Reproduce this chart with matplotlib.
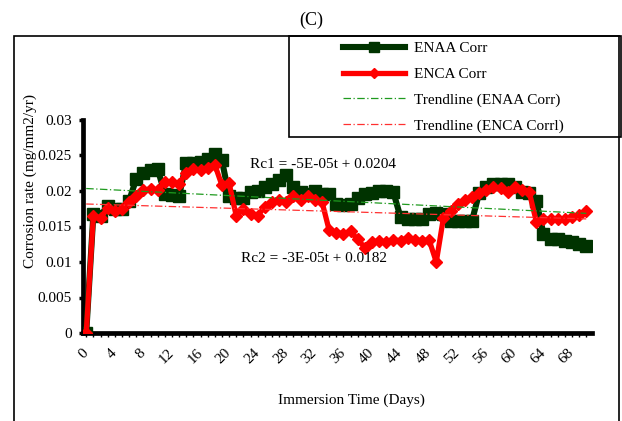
import matplotlib
matplotlib.use("Agg")
import matplotlib.pyplot as plt
from matplotlib.patches import Rectangle
from matplotlib.lines import Line2D
import numpy as np

# immersion time, days 0..70 (one reading per day)
days = list(range(0, 71))

enaa_corr = [
    0.0, 0.0167, 0.0165, 0.0179, 0.0175, 0.0175, 0.0186, 0.0217, 0.0226, 0.0230,
    0.0231, 0.0196, 0.0194, 0.0193, 0.0240, 0.0240, 0.0241, 0.0245, 0.0252, 0.0243,
    0.0193, 0.0190, 0.0190, 0.0198, 0.0200, 0.0205, 0.0210, 0.0215, 0.0222, 0.0205,
    0.0199, 0.0196, 0.0200, 0.0196, 0.0196, 0.0182, 0.0180, 0.0182, 0.0190, 0.0196,
    0.0197, 0.0200, 0.0200, 0.0198, 0.0163, 0.0160, 0.0160, 0.0160, 0.0168, 0.0169,
    0.0167, 0.0158, 0.0158, 0.0158, 0.0158, 0.0197, 0.0205, 0.0210, 0.0210, 0.0210,
    0.0205, 0.0198, 0.0197, 0.0186, 0.0140, 0.0132, 0.0132, 0.0130, 0.0128, 0.0125,
    0.0123,
]

enca_corr = [
    0.0, 0.0165, 0.0162, 0.0176, 0.0172, 0.0175, 0.0184, 0.0193, 0.0201, 0.0203,
    0.0201, 0.0212, 0.0212, 0.0210, 0.0226, 0.0231, 0.0229, 0.0233, 0.0237, 0.0208,
    0.0211, 0.0165, 0.0175, 0.0168, 0.0165, 0.0178, 0.0185, 0.0188, 0.0185, 0.0193,
    0.0188, 0.0193, 0.0188, 0.0185, 0.0145, 0.0141, 0.0140, 0.0143, 0.0132, 0.0120,
    0.0128, 0.0130, 0.0128, 0.0131, 0.0130, 0.0134, 0.0131, 0.0130, 0.0131, 0.0100,
    0.0162, 0.0172, 0.0182, 0.0187, 0.0192, 0.0197, 0.0201, 0.0205, 0.0204, 0.0199,
    0.0206, 0.0202, 0.0199, 0.0157, 0.0161, 0.0160, 0.0160, 0.0161, 0.0163, 0.0166,
    0.0172,
]

# linear trendlines as printed on the chart (t = point index 1..n)
enaa_slope, enaa_intercept = -5e-05, 0.0204
enca_slope, enca_intercept = -3e-05, 0.0182

y_ticks = [0, 0.005, 0.01, 0.015, 0.02, 0.025, 0.03]
y_tick_labels = ["0", "0.005", "0.01", "0.015", "0.02", "0.025", "0.03"]

plt.rcParams["font.family"] = ["Liberation Serif", "DejaVu Serif"]
plt.rcParams["font.size"] = 11

W, H = 622, 421
fig = plt.figure(figsize=(W / 100, H / 100), dpi=100)
ax = fig.add_axes([83 / W, 1 - 333 / H, (592 - 83) / W, (333 - 120) / H])

x = np.array(days)
t = x + 1
dark_green = "#003300"

ax.plot(x, enaa_corr, color=dark_green, lw=4.4, marker="s", ms=8,
        mfc=dark_green, mec=dark_green, zorder=3, solid_joinstyle="round")
ax.plot(x, enca_corr, color="#ff0000", lw=3.8, marker="D", ms=6.5,
        mfc="#ff0000", mec="#ff0000", zorder=4, solid_joinstyle="round")
ax.plot(x, enaa_slope * t + enaa_intercept, color="#1f9a1f", lw=0.9,
        ls=(0, (6, 2, 1, 2)), zorder=5)
ax.plot(x, enca_slope * t + enca_intercept, color="#ff3030", lw=0.9,
        ls=(0, (6, 2, 1, 2)), zorder=5)

ax.set_xlim(-0.45, 70.8)
ax.set_ylim(0, 0.03)
ax.set_yticks(y_ticks)
ax.set_yticklabels(y_tick_labels)
ax.set_xticks(x[::4])
ax.set_xticklabels([str(d) for d in days[::4]], rotation=45, ha="right",
                   va="center", rotation_mode="anchor")
ax.set_xticks(x, minor=True)

for s in ["top", "right"]:
    ax.spines[s].set_visible(False)
for s in ["left", "bottom"]:
    ax.spines[s].set_linewidth(3.4)
    ax.spines[s].set_capstyle("projecting")
ax.tick_params(axis="y", direction="out", length=3, width=2.5, pad=5)
ax.tick_params(axis="x", which="both", direction="out", length=3, width=1.0,
               pad=10)
ax.set_facecolor("none")

fig.text(30 / W, 1 - 181 / H, "Corrosion rate (mg/mm2/yr)", rotation=90,
         ha="center", va="center", fontsize=11)
fig.text(351 / W, 1 - 400 / H, "Immersion Time (Days)", ha="center",
         va="center", fontsize=11)
fig.text(311 / W, 1 - 20 / H, "(C)", ha="center", va="center", fontsize=13)

fig.text(250 / W, 1 - 165 / H, "Rc1 = -5E-05t + 0.0204", ha="left",
         va="center", fontsize=11)
fig.text(241 / W, 1 - 258 / H, "Rc2 = -3E-05t + 0.0182", ha="left",
         va="center", fontsize=11)

# chart area border and legend box
fig.patches.append(Rectangle((14 / W, -0.01), (619 - 14) / W, 1.01 - 36 / H,
                             transform=fig.transFigure, fill=False,
                             ec="black", lw=1.2))
fig.patches.append(Rectangle((289 / W, 1 - 137 / H), (621 - 289) / W,
                             (137 - 36) / H, transform=fig.transFigure,
                             fill=False, ec="black", lw=1.2))

handles = [
    Line2D([], [], color=dark_green, lw=4.4, marker="s", ms=7),
    Line2D([], [], color="#ff0000", lw=3.8, marker="D", ms=5),
    Line2D([], [], color="#1f9a1f", lw=0.9, ls=(0, (6, 2, 1, 2))),
    Line2D([], [], color="#ff3030", lw=0.9, ls=(0, (6, 2, 1, 2))),
]
labels = ["ENAA Corr", "ENCA Corr", "Trendline (ENAA Corr)",
          "Trendline (ENCA Corrl)"]
fig.legend(handles, labels, loc="upper left",
           bbox_to_anchor=(332 / W, 1 - 31 / H), frameon=False,
           handlelength=4.1, handletextpad=0.55, labelspacing=0.78,
           borderpad=0.2, fontsize=11, markerfirst=True, numpoints=1)

fig.savefig("out.png", dpi=100)
